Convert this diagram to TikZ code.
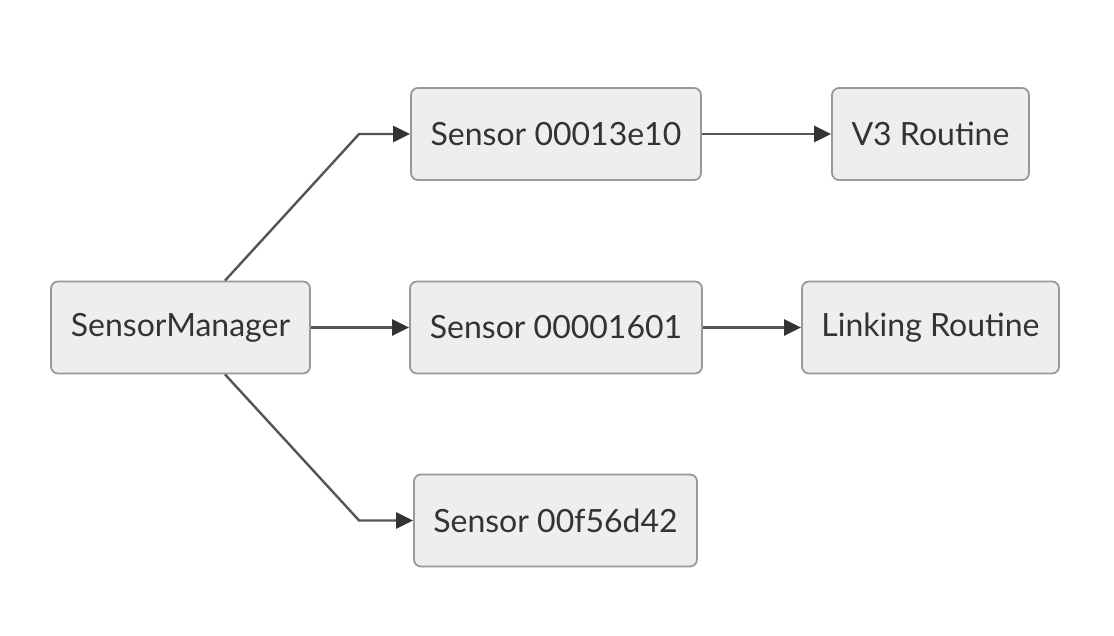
\documentclass[tikz,border=0pt]{standalone}
\usepackage{fontspec}
\setmainfont{Lato}
\usetikzlibrary{arrows.meta,calc}
\definecolor{boxfill}{HTML}{EEEEEE}
\definecolor{boxline}{HTML}{999999}
\definecolor{ink}{HTML}{333333}
\definecolor{wire}{HTML}{555555}

\begin{document}
\begin{tikzpicture}[x=1pt,y=-1pt,
  box/.style={draw=boxline,fill=boxfill,line width=1.8pt,rounded corners=7pt,minimum height=92pt,inner sep=0,text=ink,font=\fontsize{32}{38}\selectfont},
  edge/.style={draw=wire,line width=2.4pt,-{Triangle[length=17pt,width=16pt,color=ink]}}]
\useasboundingbox (0,0) rectangle (1114,636);
\node[box,minimum width=259pt] (mgr) at (180.5,327.5) {SensorManager};
\node[box,minimum width=290pt] (s1) at (556,134) {Sensor 00013e10};
\node[box,minimum width=197pt] (v3) at (930.5,134) {V3 Routine};
\node[box,minimum width=292pt] (s2) at (556,327.5) {Sensor 00001601};
\node[box,minimum width=257pt] (link) at (930.5,327.5) {Linking Routine};
\node[box,minimum width=283pt] (s3) at (555.5,520.5) {Sensor 00f56d42};
\draw[edge] ([xshift=44.5pt]mgr.north) -- ([xshift=-51pt]s1.west) -- (s1.west);
\draw[edge] (mgr.east) -- (s2.west);
\draw[edge] ([xshift=44.5pt]mgr.south) -- ([xshift=-54pt]s3.west) -- (s3.west);
\draw[edge] (s1.east) -- (v3.west);
\draw[edge] (s2.east) -- (link.west);
\end{tikzpicture}
\end{document}
